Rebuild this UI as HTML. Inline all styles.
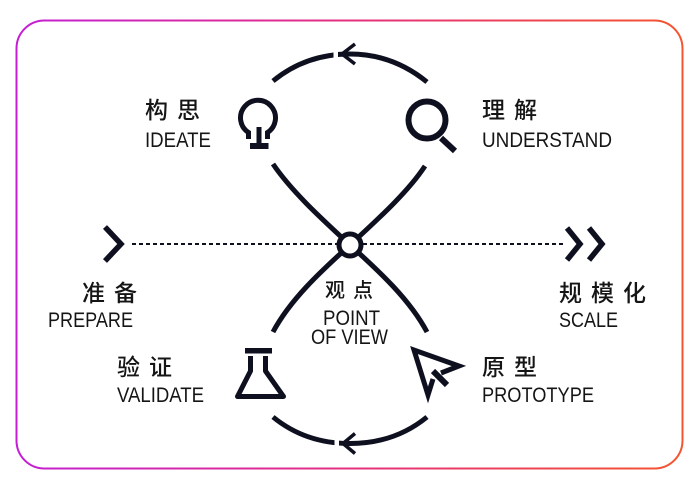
<!DOCTYPE html>
<html>
<head>
<meta charset="utf-8">
<style>
  html, body { margin: 0; padding: 0; background: #ffffff; }
  body { width: 700px; height: 490px; overflow: hidden; }
  svg { display: block; }
  .lat { font-family: "Liberation Sans", "Noto Sans CJK SC", sans-serif; font-size: 21px; fill: #151515; }
  .cjk { font-family: "Liberation Sans", "Noto Sans CJK SC", sans-serif; font-size: 23px; font-weight: 500; fill: #151515; }
</style>
</head>
<body>
<svg width="700" height="490" viewBox="0 0 700 490" xmlns="http://www.w3.org/2000/svg">
  <defs>
    <linearGradient id="g" x1="0" y1="0" x2="1" y2="0">
      <stop offset="0" stop-color="#c41ed4"/>
      <stop offset="0.5" stop-color="#e4307e"/>
      <stop offset="1" stop-color="#f4552e"/>
    </linearGradient>
  </defs>

  <!-- frame -->
  <rect x="16.5" y="20.5" width="666" height="448" rx="28" ry="28" fill="#ffffff" stroke="url(#g)" stroke-width="2"/>

  <g fill="none" stroke="#0e1020" stroke-linecap="butt">
    <!-- top arc -->
    <path d="M 273 81 C 295 63 320 54 350 54 C 380 54 405 64 427 82" stroke-width="5"/>
    <!-- bottom arc -->
    <path d="M 273 417 C 295 435 320 443.5 350 443.5 C 380 443.5 405 435 427 417" stroke-width="5"/>

    <!-- crossing sides -->
    <path d="M 350 245 C 323 220 292 192 273 164" stroke-width="5"/>
    <path d="M 350 245 C 377 220 408 192 425 166" stroke-width="5"/>
    <path d="M 350 245 C 320 272 290 300 273 332" stroke-width="5"/>
    <path d="M 350 245 C 380 272 410 300 427 332" stroke-width="5"/>

    <!-- dashed axis -->
    <line x1="132" y1="244" x2="566" y2="244" stroke-width="2" stroke-dasharray="4 3"/>
  </g>

  <!-- gaps before arrow tips -->
  <rect x="333.5" y="47" width="4.5" height="15" fill="#ffffff"/>
  <rect x="334.5" y="436" width="4.5" height="15" fill="#ffffff"/>

  <g fill="none" stroke="#0e1020">
    <!-- arc arrowheads -->
    <path d="M 355 44 L 342 54 L 355 64" stroke-width="3.5" stroke-miterlimit="10"/>
    <path d="M 355 433.5 L 343 443.5 L 355 453.5" stroke-width="3.5" stroke-miterlimit="10"/>

    <!-- center circle -->
    <circle cx="350" cy="245" r="11" fill="#ffffff" stroke-width="5"/>

    <!-- left chevron -->
    <path d="M 105 227 L 121 244 L 105 261" stroke-width="5.5" stroke-miterlimit="10"/>
    <!-- right double chevron -->
    <path d="M 567 228 L 580 244 L 567 260" stroke-width="5.5" stroke-miterlimit="10"/>
    <path d="M 589 228 L 602 244 L 589 260" stroke-width="5.5" stroke-miterlimit="10"/>

    <!-- bulb -->
    <path d="M 248.5 139 V 132.5 A 17.5 17.5 0 1 1 267.5 132.5 V 139" stroke-width="5"/>

    <!-- magnifier -->
    <circle cx="427" cy="120" r="18.5" stroke-width="6"/>
    <line x1="441" y1="138" x2="455" y2="151" stroke-width="6"/>

    <!-- flask -->
    <path d="M 250.5 356 V 371 L 237.5 396.5 H 283.5 L 265.5 371 V 356" stroke-width="5" stroke-linejoin="round"/>

    <!-- cursor -->
    <path d="M 441 373 L 459 366 L 414 350 L 428 395 L 433 379" stroke-width="5" stroke-linejoin="miter" stroke-miterlimit="10"/>
    <line x1="433" y1="371" x2="447" y2="385" stroke-width="6"/>
  </g>

  <g fill="#0e1020">
    <!-- bulb stem and base -->
    <rect x="256.5" y="127" width="5" height="18"/>
    <rect x="250" y="143" width="18.5" height="6"/>
    <!-- flask top bar -->
    <rect x="245" y="348" width="27" height="5.5"/>
  </g>

  <!-- labels: CJK -->
  <text class="cjk" x="145 177" y="118">构思</text>
  <text class="cjk" x="482 514" y="118">理解</text>
  <text class="cjk" x="82 114" y="301">准备</text>
  <text class="cjk" x="117 149" y="375">验证</text>
  <text class="cjk" x="559 591 623" y="301">规模化</text>
  <text class="cjk" x="482 514" y="375">原型</text>
  <text class="cjk" x="325 353" y="297" style="font-size:20px">观点</text>

  <!-- labels: Latin -->
  <text class="lat" x="145" y="147" textLength="66" lengthAdjust="spacingAndGlyphs">IDEATE</text>
  <text class="lat" x="482" y="147" textLength="130" lengthAdjust="spacingAndGlyphs">UNDERSTAND</text>
  <text class="lat" x="48" y="327" textLength="85" lengthAdjust="spacingAndGlyphs">PREPARE</text>
  <text class="lat" x="117" y="402" textLength="87" lengthAdjust="spacingAndGlyphs">VALIDATE</text>
  <text class="lat" x="323" y="325" textLength="57" lengthAdjust="spacingAndGlyphs">POINT</text>
  <text class="lat" x="311" y="344" textLength="77" lengthAdjust="spacingAndGlyphs">OF VIEW</text>
  <text class="lat" x="559" y="327" textLength="59" lengthAdjust="spacingAndGlyphs">SCALE</text>
  <text class="lat" x="482" y="402" textLength="112" lengthAdjust="spacingAndGlyphs">PROTOTYPE</text>
</svg>
</body>
</html>
